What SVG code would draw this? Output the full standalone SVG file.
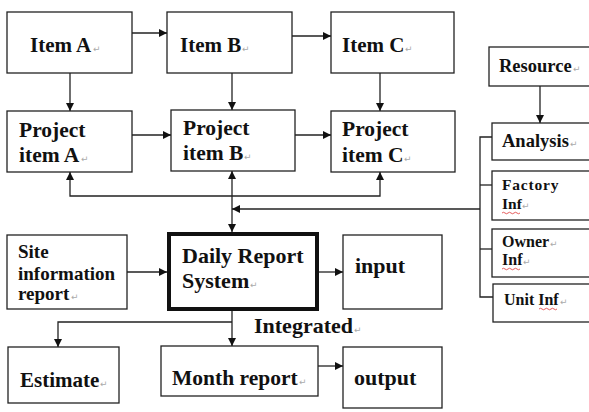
<svg xmlns="http://www.w3.org/2000/svg" width="589" height="412" viewBox="0 0 589 412">
  <style>
    .box { fill: #fff; stroke: #222; stroke-width: 1.3; }
    .thick { fill: #fff; stroke: #111; stroke-width: 4; }
    .ln { fill: none; stroke: #222; stroke-width: 1.3; }
    .wavy { fill: none; stroke: #d33; stroke-width: 0.8; }
  </style>
  <defs>
    <marker id="arr" viewBox="0 0 10 10" refX="10" refY="5" markerWidth="8" markerHeight="8" markerUnits="userSpaceOnUse" orient="auto-start-reverse">
      <path d="M0,0 L10,5 L0,10 Z" fill="#111"/>
    </marker>
  </defs>

  <rect width="589" height="412" fill="#fff"/>

  <!-- node boxes -->
  <g id="item-a"><rect class="box" x="7" y="12" width="125" height="61"/></g>
  <g id="item-b"><rect class="box" x="167" y="12" width="125" height="61"/></g>
  <g id="item-c"><rect class="box" x="331" y="12" width="123" height="61"/></g>
  <g id="resource"><rect class="box" x="489" y="47" width="102" height="39"/></g>
  <g id="project-a"><rect class="box" x="7" y="111" width="125" height="61"/></g>
  <g id="project-b"><rect class="box" x="171" y="110" width="124" height="61"/></g>
  <g id="project-c"><rect class="box" x="331" y="111" width="124" height="61"/></g>
  <g id="analysis"><rect class="box" x="492" y="123" width="99" height="37"/></g>
  <g id="factory-inf">
    <rect class="box" x="492" y="171" width="99" height="49"/>
    <path class="wavy" d="M502,213 q1.5,-1.5 3,0 t3,0 t3,0 t3,0 t3,0 t3,0"/>
  </g>
  <g id="owner-inf">
    <rect class="box" x="492" y="229" width="99" height="48"/>
    <path class="wavy" d="M502,269 q1.5,-1.5 3,0 t3,0 t3,0 t3,0 t3,0 t3,0"/>
  </g>
  <g id="unit-inf">
    <rect class="box" x="493" y="284" width="98" height="38"/>
    <path class="wavy" d="M539,309 q1.5,-1.5 3,0 t3,0 t3,0 t3,0 t3,0 t3,0"/>
  </g>
  <g id="site-info"><rect class="box" x="7" y="235" width="120" height="74"/></g>
  <g id="daily-report"><rect class="thick" x="169" y="234" width="148" height="75"/></g>
  <g id="input"><rect class="box" x="343" y="235" width="99" height="74"/></g>
  <g id="estimate"><rect class="box" x="8" y="347" width="111" height="56"/></g>
  <g id="month-report"><rect class="box" x="161" y="346" width="157" height="50"/></g>
  <g id="output"><rect class="box" x="343" y="347" width="99" height="61"/></g>

  <!-- labels -->
  <g id="labels" font-family="Liberation Serif" font-weight="bold" fill="#111">
    <text x="30" y="52" font-size="21">Item A</text>
    <text x="180" y="52" font-size="21">Item B</text>
    <text x="342" y="52" font-size="21">Item C</text>
    <text x="499" y="72" font-size="18.5">Resource</text>
    <text x="19" y="137" font-size="21.5">Project</text>
    <text x="19" y="162" font-size="21.5">item A</text>
    <text x="183" y="135" font-size="21.5">Project</text>
    <text x="183" y="160" font-size="21.5">item B</text>
    <text x="342" y="136" font-size="21.5">Project</text>
    <text x="342" y="162" font-size="21.5">item C</text>
    <text x="502" y="147" font-size="18.5">Analysis</text>
    <text x="502" y="190" font-size="15.5" letter-spacing="0.8">Factory</text>
    <text x="502" y="209" font-size="15.5">Inf</text>
    <text x="502" y="247" font-size="16">Owner</text>
    <text x="502" y="265" font-size="16">Inf</text>
    <text x="504" y="305" font-size="16">Unit Inf</text>
    <text x="18" y="258" font-size="19">Site</text>
    <text x="18" y="280" font-size="19">information</text>
    <text x="18" y="300" font-size="19">report</text>
    <text x="182" y="263" font-size="22">Daily Report</text>
    <text x="182" y="288" font-size="22">System</text>
    <text x="355" y="273" font-size="22">input</text>
    <text x="254" y="333" font-size="22">Integrated</text>
    <text x="20" y="387" font-size="21">Estimate</text>
    <text x="172" y="385" font-size="21.5">Month report</text>
    <text x="354" y="385" font-size="22">output</text>
  </g>

  <!-- paragraph marks after labels -->
  <g id="marks" font-family="DejaVu Sans" font-size="9" fill="#aaa">
    <text x="93" y="52">↵</text>
    <text x="242" y="52">↵</text>
    <text x="405" y="52">↵</text>
    <text x="573" y="72">↵</text>
    <text x="81" y="162">↵</text>
    <text x="244" y="160">↵</text>
    <text x="404" y="162">↵</text>
    <text x="570" y="147">↵</text>
    <text x="522" y="209">↵</text>
    <text x="550" y="247">↵</text>
    <text x="523" y="265">↵</text>
    <text x="560" y="305">↵</text>
    <text x="71" y="300">↵</text>
    <text x="250" y="288">↵</text>
    <text x="354" y="333">↵</text>
    <text x="100" y="387">↵</text>
    <text x="299" y="385">↵</text>
  </g>

  <!-- connectors -->
  <g id="connectors">
    <line class="ln" x1="132" y1="33" x2="167" y2="33" marker-end="url(#arr)"/>
    <line class="ln" x1="292" y1="36" x2="331" y2="36" marker-end="url(#arr)"/>
    <line class="ln" x1="70" y1="73" x2="70" y2="111" marker-end="url(#arr)"/>
    <line class="ln" x1="232" y1="73" x2="232" y2="110" marker-end="url(#arr)"/>
    <line class="ln" x1="380" y1="73" x2="380" y2="111" marker-end="url(#arr)"/>
    <line class="ln" x1="540" y1="86" x2="540" y2="123" marker-end="url(#arr)"/>
    <line class="ln" x1="132" y1="135" x2="171" y2="135" marker-end="url(#arr)"/>
    <line class="ln" x1="295" y1="135" x2="331" y2="135" marker-end="url(#arr)"/>
    <!-- feedback bus to project items A and C -->
    <path class="ln" d="M70,172 L70,196 L380,196 L380,172" marker-start="url(#arr)" marker-end="url(#arr)"/>
    <!-- two-way link between project item B and the daily report system -->
    <line class="ln" x1="232" y1="171" x2="232" y2="232" marker-start="url(#arr)" marker-end="url(#arr)"/>
    <!-- information sources feeding in from the right -->
    <path class="ln" d="M492,137 L480,137 L480,297 L493,297"/>
    <line class="ln" x1="480" y1="185" x2="492" y2="185"/>
    <line class="ln" x1="480" y1="249" x2="492" y2="249"/>
    <line class="ln" x1="480" y1="209" x2="232" y2="209" marker-end="url(#arr)"/>
    <line class="ln" x1="127" y1="272" x2="167" y2="272" marker-end="url(#arr)"/>
    <line class="ln" x1="319" y1="272" x2="343" y2="272" marker-end="url(#arr)"/>
    <line class="ln" x1="232" y1="311" x2="232" y2="346" marker-end="url(#arr)"/>
    <path class="ln" d="M232,322 L58,322 L58,347" marker-end="url(#arr)"/>
    <line class="ln" x1="318" y1="366" x2="343" y2="366" marker-end="url(#arr)"/>
  </g>
</svg>
